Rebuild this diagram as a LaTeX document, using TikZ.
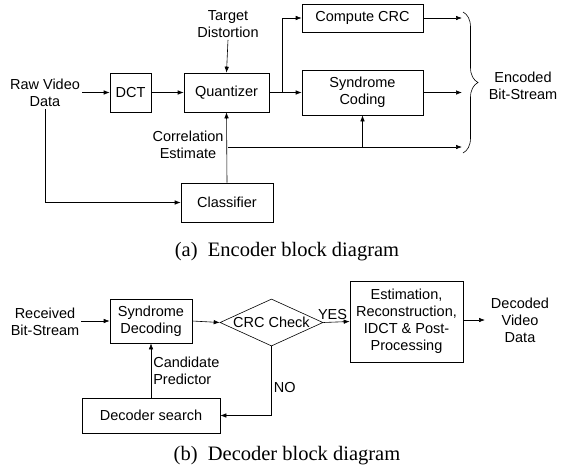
\documentclass[tikz,border=0pt]{standalone}
\usepackage{fontspec}
\setmainfont{Liberation Serif}
\setsansfont{Liberation Sans}
\usetikzlibrary{arrows.meta,shapes.geometric,decorations.pathreplacing}

\begin{document}
\begin{tikzpicture}[x=1pt,y=-1pt,
    txt/.style={font=\sffamily\fontsize{14.5}{17}\selectfont, align=center, inner sep=2pt},
    blk/.style={txt, draw, line width=0.6pt},
    decision/.style={draw, line width=0.6pt, diamond, inner sep=0pt, minimum width=103pt, minimum height=47pt},
    arr/.style={line width=0.6pt, -{Latex[length=6pt,width=4.5pt]}},
    capt/.style={font=\rmfamily\fontsize{20.5}{24}\selectfont}]
    \useasboundingbox (0,0) rectangle (563,467);

    % Encoder (a)
    \node[txt] (raw) at (45,93) {Raw Video\\Data}; % input text
    \node[blk, minimum width=41pt, minimum height=39pt] (dct) at (130.5,92.5) {DCT};
    \node[blk, minimum width=85pt, minimum height=39pt] (quant) at (226.5,92.5) {Quantizer};
    \node[txt] (target) at (228,24) {Target\\Distortion}; % distortion input
    \node[blk, minimum width=121pt, minimum height=28pt] (crc) at (362.5,18) {Compute CRC};
    \node[blk, minimum width=121pt, minimum height=45pt] (synd) at (362.5,92.5) {Syndrome\\Coding};
    \node[blk, minimum width=92pt, minimum height=39pt] (classif) at (227,202.5) {Classifier};
    \node[txt] (corr) at (188,145) {Correlation\\Estimate};
    \node[txt] (encoded) at (523,86) {Encoded\\Bit-Stream}; % output text
    \coordinate (split) at (282,92.5); % branch to CRC
    \coordinate (corrsplit) at (228,147); % branch of the estimate
    \coordinate (busend) at (462,147);

    \draw[arr] (raw.east |- dct.west) -- (dct.west);
    \draw[arr] (dct.east) -- (quant.west);
    \draw[arr] (target.south) -- (quant.north);
    \draw[arr] (quant.east) -- (synd.west);
    \draw[arr] (split) |- (crc.west);
    \draw[arr] (raw.south) |- (classif.west);
    \draw[arr] (classif.north) -- (quant.south);
    \draw[arr] (corrsplit) -- (busend);
    \draw[arr] (synd.south |- corrsplit) -- (synd.south);
    \draw[arr] (crc.east) -- (crc.east -| busend);
    \draw[arr] (synd.east) -- (synd.east -| busend);
    \draw[line width=0.6pt, decorate, decoration={brace, amplitude=15pt}] (463,12) -- (463,153); % output brace

    \node[capt] (capa) at (287,252) {(a)\ \ Encoder block diagram};

    % Decoder (b)
    \node[txt] (recv) at (45,322) {Received\\Bit-Stream};
    \node[blk, minimum width=82pt, minimum height=44pt] (sdec) at (151,321) {Syndrome\\Decoding};
    \node[decision, label=center:{\sffamily\fontsize{14.5}{17}\selectfont CRC Check}] (check) at (271.5,322.5) {};
    \node[blk, minimum width=113pt, minimum height=81pt] (est) at (406.5,321.5) {Estimation,\\Reconstruction,\\IDCT \& Post-\\Processing};
    \node[txt] (decoded) at (520,320) {Decoded\\Video\\Data};
    \node[blk, minimum width=138pt, minimum height=35pt] (dsearch) at (151,415.5) {Decoder search};
    \coordinate (outend) at (485,320);

    \draw[arr] (recv.east |- sdec.west) -- (sdec.west);
    \draw[arr] (sdec.east) -- (check.west);
    \draw[arr] (check.east) -- (est.west) node[txt, pos=0.35, above] {YES};
    \draw[arr] (est.east |- outend) -- (outend);
    \draw[arr] (check.south) |- (dsearch.east) node[txt, pos=0.3, right] {NO};
    \draw[arr] (dsearch.north) -- (sdec.south) node[txt, midway, right, align=left] {Candidate\\Predictor};

    \node[capt] (capb) at (287,456) {(b)\ \ Decoder block diagram};
\end{tikzpicture}
\end{document}
